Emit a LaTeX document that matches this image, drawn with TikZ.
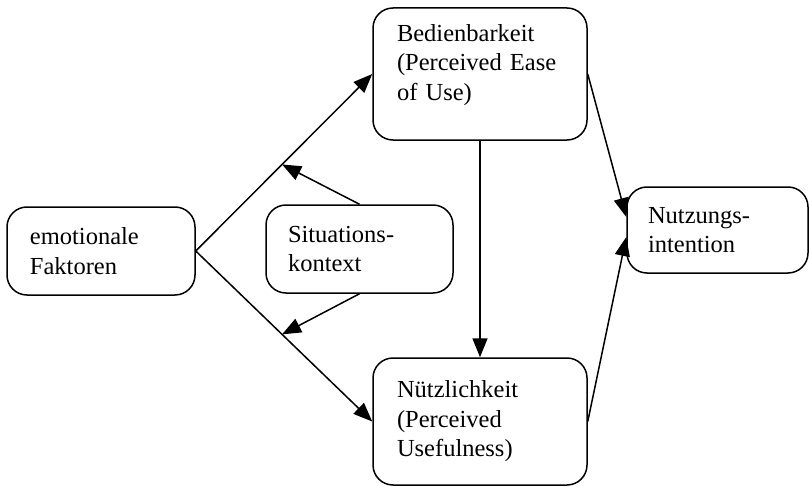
\documentclass[tikz,border=0pt]{standalone}
\usepackage{fontspec}
\setmainfont{Liberation Serif}
\usetikzlibrary{arrows.meta,calc}
\tikzset{
  box/.style={draw, rounded corners=20pt, line width=1.5pt, align=left,
    font=\fontsize{24.5}{29.5}\selectfont, inner ysep=0pt, anchor=center},
  conn/.style={line width=1.5pt, -{Triangle[length=19pt,width=15pt]}},
}
\begin{document}
\begin{tikzpicture}[x=1pt,y=-1pt]
\useasboundingbox (0,0) rectangle (809,487);
\node[box, minimum width=188pt, minimum height=88pt, text width=142pt, inner xsep=23pt] (emo) at (101,251) {emotionale\\Faktoren};
\node[box, minimum width=187pt, minimum height=88pt, text width=143pt, inner xsep=22pt] (sit) at (359.5,249) {Situations-\\kontext};
\node[box, minimum width=214pt, minimum height=132pt, text width=166pt, inner xsep=24pt] (bed) at (480,74) {Bedienbarkeit\\(Perceived Ease\\of Use)\\[-6pt]\mbox{}};
\node[box, minimum width=214pt, minimum height=127pt, text width=166pt, inner xsep=24pt] (nutz) at (480,421.5) {Nützlichkeit\\(Perceived\\Usefulness)};
\node[box, minimum width=181pt, minimum height=86pt, text width=139pt, inner xsep=21pt] (int) at (717.5,230) {Nutzungs-\\intention};
\coordinate (up) at ($(emo.east)!0.489!(bed.west)$);
\coordinate (dn) at ($(emo.east)!0.489!(nutz.west)$);
\draw[conn] (emo.east) -- (bed.west);
\draw[conn] (emo.east) -- (nutz.west);
\draw[conn] (sit.north) -- (up);
\draw[conn] (sit.south) -- (dn);
\draw[conn] (bed.south) -- (nutz.north);
\draw[conn] (bed.east) -- ([yshift=13pt]int.west);
\draw[conn] (nutz.east) -- ([yshift=-7pt]int.west);
\end{tikzpicture}
\end{document}
